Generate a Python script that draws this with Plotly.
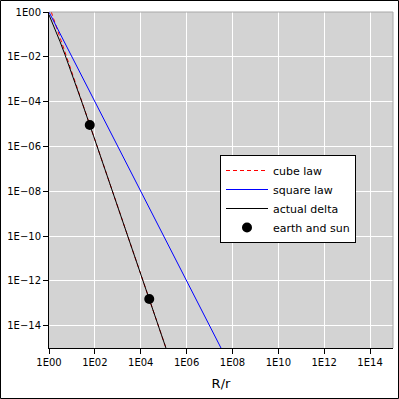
import plotly.graph_objects as go

# R/r sample points
x_vals = [1, 1.5, 2, 3, 5, 10, 30, 100, 1e3, 1e4, 1e5, 1e6, 1e8, 1e10, 1e15]
cube_law = [2, 0.5926, 0.25, 0.07407, 0.016, 2e-3, 7.407e-5, 2e-6, 2e-9, 2e-12, 2e-15, 2e-18,
            2e-24, 2e-30, 2e-45]
square_law = [1, 0.4444, 0.25, 0.1111, 0.04, 0.01, 1.111e-3, 1e-4, 1e-6, 1e-8, 1e-10, 1e-12,
              1e-16, 1e-20, 1e-30]
actual_delta = [0.75, 0.2844, 0.1389, 0.04861, 0.01222, 1.736e-3, 7.051e-5, 1.970e-6, 1.997e-9,
                2.0e-12, 2.0e-15, 2.0e-18, 2.0e-24, 2.0e-30, 2.0e-45]

earth_sun_x = [60, 23481]
earth_sun_y = [9.03e-6, 1.545e-13]

x_tickvals = [1e0, 1e2, 1e4, 1e6, 1e8, 1e10, 1e12, 1e14]
x_ticktext = ["1E00", "1E02", "1E04", "1E06", "1E08", "1E10", "1E12", "1E14"]
y_tickvals = [1e0, 1e-2, 1e-4, 1e-6, 1e-8, 1e-10, 1e-12, 1e-14]
y_ticktext = ["1E00", "1E\u221202", "1E\u221204", "1E\u221206", "1E\u221208",
              "1E\u221210", "1E\u221212", "1E\u221214"]

fig = go.Figure()
fig.add_trace(go.Scatter(x=x_vals, y=cube_law, mode="lines", name="cube law",
                         line=dict(color="red", width=1, dash="4px,3px")))
fig.add_trace(go.Scatter(x=x_vals, y=square_law, mode="lines", name="square law",
                         line=dict(color="blue", width=1)))
fig.add_trace(go.Scatter(x=x_vals, y=actual_delta, mode="lines", name="actual delta",
                         line=dict(color="black", width=1)))
fig.add_trace(go.Scatter(x=earth_sun_x, y=earth_sun_y, mode="markers", name="earth and sun",
                         marker=dict(color="black", size=10)))

W, H = 399, 399
ml, mr, mt, mb = 49, 6, 12, 51
pw, ph = W - ml - mr, H - mt - mb

def px_to_paper_x(p):
    return (p - ml) / pw

def px_to_paper_y(p):
    return (H - mb - p) / ph

fig.update_layout(
    width=W, height=H,
    margin=dict(l=ml, r=mr, t=mt, b=mb, pad=0),
    paper_bgcolor="white",
    plot_bgcolor="#d3d3d3",
    font=dict(family="DejaVu Sans", size=10, color="black"),
    showlegend=True,
    legend=dict(x=px_to_paper_x(220), y=px_to_paper_y(199), xanchor="left", yanchor="middle",
                bgcolor="white", bordercolor="black", borderwidth=1,
                font=dict(size=11, family="DejaVu Sans"), itemwidth=42,
                tracegroupgap=0),
    xaxis=dict(type="log", range=[0, 15], tickvals=x_tickvals, ticktext=x_ticktext,
               showgrid=True, gridcolor="white", gridwidth=1, zeroline=False,
               showline=True, linecolor="black", linewidth=1,
               ticks="outside", ticklen=5, tickcolor="black",
               title=dict(text="R/r", font=dict(size=13), standoff=11)),
    yaxis=dict(type="log", range=[-15, 0], tickvals=y_tickvals, ticktext=y_ticktext,
               showgrid=True, gridcolor="white", gridwidth=1, zeroline=False,
               showline=True, linecolor="black", linewidth=1,
               ticks="outside", ticklen=5, tickcolor="black"),
    shapes=[
        dict(type="line", xref="paper", yref="paper", x0=0, x1=1, y0=1, y1=1,
             line=dict(color="#a8a8a8", width=1), layer="above"),
        dict(type="line", xref="paper", yref="paper", x0=1, x1=1, y0=0, y1=1,
             line=dict(color="#a8a8a8", width=1), layer="above"),
        dict(type="rect", xref="paper", yref="paper",
             x0=px_to_paper_x(0.5), x1=px_to_paper_x(398.5),
             y0=px_to_paper_y(398.5), y1=px_to_paper_y(0.5),
             line=dict(color="black", width=1), layer="above"),
    ],
)

fig.write_html("out.html",
               config={"displayModeBar": False},
               post_script="document.body.style.margin='0';document.body.style.padding='0';")
